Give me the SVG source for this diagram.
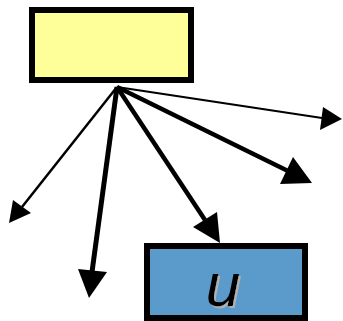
<svg xmlns="http://www.w3.org/2000/svg" width="343" height="321" viewBox="0 0 343 321">
  <style>
    .box { stroke: #000; stroke-width: 6; }
    .edge { stroke: #000; fill: none; stroke-linecap: butt; }
    .head { fill: #000; stroke: none; }
    .lbl { font-family: "Liberation Sans", Arial, sans-serif; font-style: italic; font-size: 62px; text-anchor: middle; }
  </style>
  <defs>
    <!-- grey offset shadow behind the label -->
    <filter id="shadow" x="-20%" y="-20%" width="140%" height="140%">
      <feFlood flood-color="#b0b0b0"/>
      <feComposite in2="SourceAlpha" operator="in"/>
      <feOffset dx="2" dy="2" result="sh"/>
      <feMerge>
        <feMergeNode in="sh"/>
        <feMergeNode in="SourceGraphic"/>
      </feMerge>
    </filter>
  </defs>
  <rect width="343" height="321" fill="#fff"/>

  <!-- source node -->
  <g id="source">
    <rect class="box" x="32" y="10" width="159" height="70" fill="#FFFF99"/>
  </g>

  <!-- target node u -->
  <g id="u">
    <rect class="box" x="147" y="246" width="158" height="72" fill="#5B9BCB"/>
    <text class="lbl" x="223" y="306" fill="#000" filter="url(#shadow)">u</text>
  </g>

  <!-- connectors fanning out from the bottom of the source node -->
  <g id="connectors">
    <line class="edge" x1="117" y1="87" x2="322" y2="118" stroke-width="2"/>
    <polygon class="head" points="342,119 323,107 320,130"/>

    <line class="edge" x1="117" y1="87" x2="288" y2="171" stroke-width="4.5"/>
    <polygon class="head" points="312,183 293,157 280,184"/>

    <line class="edge" x1="117" y1="87" x2="205" y2="220" stroke-width="4.5"/>
    <polygon class="head" points="220,243 217,212 193,227"/>

    <line class="edge" x1="117" y1="87" x2="92" y2="272" stroke-width="5"/>
    <polygon class="head" points="89,298 78,269 107,272"/>

    <line class="edge" x1="117" y1="87" x2="22" y2="207" stroke-width="2.5"/>
    <polygon class="head" points="9,223 13,200 31,213"/>
  </g>
</svg>
